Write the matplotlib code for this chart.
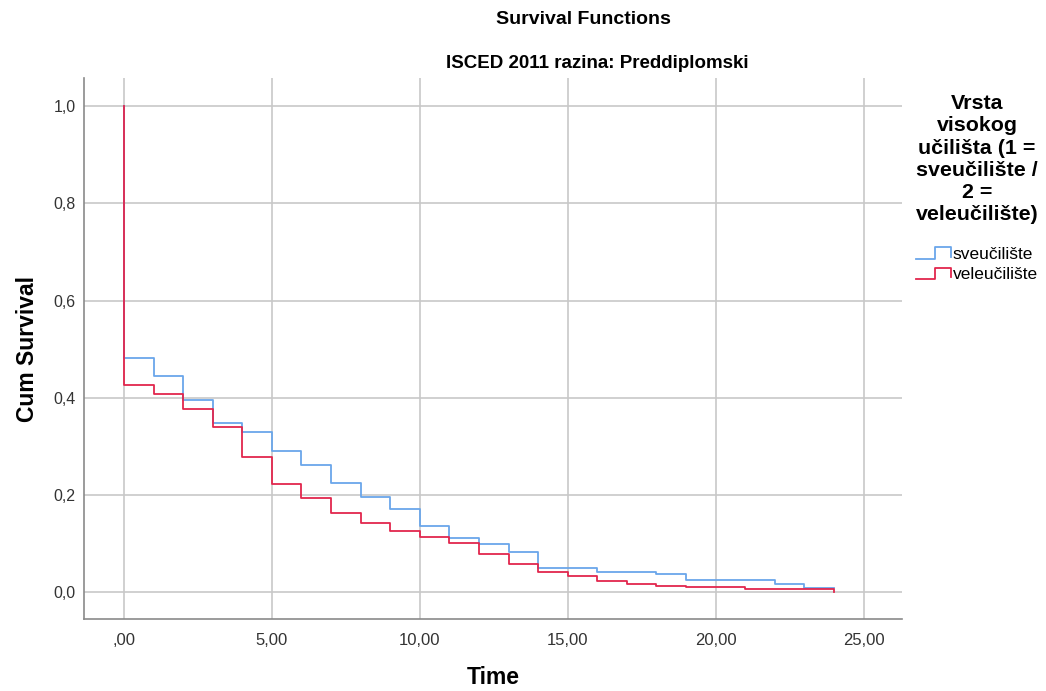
import matplotlib
matplotlib.use("Agg")
import matplotlib.pyplot as plt
from matplotlib.lines import Line2D
from matplotlib.legend_handler import HandlerBase
import numpy as np

plt.rcParams['font.family'] = ['Liberation Sans', 'DejaVu Sans']

# step times and survival values
time = [0, 1, 2, 3, 4, 5, 6, 7, 8, 9, 10, 11, 12, 13, 14, 15, 16, 17, 18, 19, 20, 21, 22, 23, 24]
surv_sveuc = [0.482, 0.445, 0.395, 0.349, 0.329, 0.291, 0.262, 0.225, 0.196, 0.171, 0.137, 0.112,
              0.100, 0.083, 0.050, 0.050, 0.041, 0.041, 0.038, 0.026, 0.026, 0.026, 0.017, 0.009, 0.008]
surv_veleuc = [0.427, 0.407, 0.377, 0.341, 0.278, 0.222, 0.194, 0.163, 0.143, 0.127, 0.114, 0.101,
               0.078, 0.058, 0.041, 0.033, 0.023, 0.017, 0.013, 0.011, 0.011, 0.006, 0.006, 0.006, 0.001]
groups = ['sveučilište', 'veleučilište']
colors = ['#6aa6ea', '#e2264d']
xticks = [0, 5, 10, 15, 20, 25]
xticklabels = [',00', '5,00', '10,00', '15,00', '20,00', '25,00']
yticks = [0, 0.2, 0.4, 0.6, 0.8, 1.0]
yticklabels = ['0,0', '0,2', '0,4', '0,6', '0,8', '1,0']


class StepHandler(HandlerBase):
    # legend key drawn as a little step
    def create_artists(self, legend, orig_handle, xdescent, ydescent, width, height, fontsize, trans):
        x0, x1 = -xdescent, -xdescent + width
        y0, y1 = -ydescent + 0.0 * height, -ydescent + 0.95 * height
        xm = x0 + 0.55 * width
        ln = Line2D([x0, xm, xm, x1, x1], [y0, y0, y1, y1, y0 + 0.15 * height],
                    color=orig_handle.get_color(), lw=orig_handle.get_linewidth(), transform=trans)
        return [ln]


fig = plt.figure(figsize=(10.46, 6.91), dpi=100)
ax = fig.add_axes([84/1046, 1 - 619/691, (902-84)/1046, (619-78)/691])

handles = []
for name, s, c in zip(groups, [surv_sveuc, surv_veleuc], colors):
    xs = [0] + time
    ys = [1.0] + s
    h, = ax.step(xs, ys, where='post', color=c, lw=1.3, label=name)
    handles.append(h)

ax.set_xlim(-1.35, 26.3)
ax.set_ylim(-0.055, 1.058)
ax.set_xticks(xticks)
ax.set_xticklabels(xticklabels, fontsize=12)
ax.set_yticks(yticks)
ax.set_yticklabels(yticklabels, fontsize=11.5)
ax.tick_params(axis='x', length=0, pad=10, colors='#333333')
ax.tick_params(axis='y', length=0, pad=6, colors='#333333')
ax.grid(True, color='#c8c8c8', lw=1.2)
ax.set_axisbelow(True)
for sp in ['top', 'right']:
    ax.spines[sp].set_visible(False)
for sp in ['left', 'bottom']:
    ax.spines[sp].set_color('#8a8a8a')
    ax.spines[sp].set_linewidth(1.2)

ax.set_xlabel('Time', fontsize=16.5, fontweight='bold', va='center')
ax.xaxis.set_label_coords(0.5, (619 - 678) / 541)
ax.set_ylabel('Cum Survival', fontsize=16.5, fontweight='bold', va='center')
ax.yaxis.set_label_coords((28 - 84) / 818, 0.5)

fig.text(583/1046, 1 - 20/691, 'Survival Functions', ha='center', va='center', fontsize=14, fontweight='bold')
fig.text(597/1046, 1 - 63/691, 'ISCED 2011 razina: Preddiplomski', ha='center', va='center', fontsize=13.5, fontweight='bold')

leg = ax.legend(handles=handles, handler_map={Line2D: StepHandler()},
                loc='upper center', bbox_to_anchor=(977/1046, 1 - 94/691), bbox_transform=fig.transFigure,
                frameon=False, fontsize=12.5, handlelength=2.0, handletextpad=0.1, labelspacing=0.3,
                borderpad=0, borderaxespad=0,
                title='Vrsta\nvisokog\nučilišta (1 =\nsveučilište /\n2 =\nveleučilište)',
                title_fontproperties={'size': 15.4, 'weight': 'bold'})
leg.get_title().set_multialignment('center')
leg.get_title().set_linespacing(1.22)
leg._legend_box.sep = 16

fig.savefig('out.png', dpi=100)
